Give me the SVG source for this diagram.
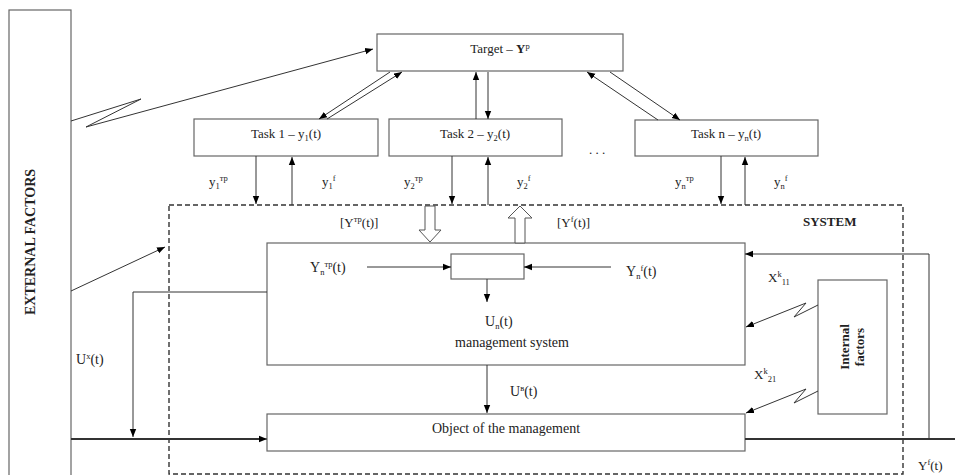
<svg xmlns="http://www.w3.org/2000/svg" width="955" height="475" viewBox="0 0 955 475">
<style>
text{font-family:"Liberation Serif","Times New Roman",serif;font-size:13px;fill:#222}
.b{font-weight:bold}
.m{font-size:14px}
.box{fill:#fff;stroke:#666;stroke-width:1.2}
.ln{fill:none;stroke:#333;stroke-width:1}
.thick{fill:none;stroke:#333;stroke-width:2}
.hol{fill:#fff;stroke:#555;stroke-width:1}
.dash{fill:none;stroke:#333;stroke-width:1.4;stroke-dasharray:5,3}
.sm{font-size:8.5px}
</style>
<defs>
<marker id="a" viewBox="0 0 10 10" refX="10" refY="5" markerWidth="8" markerHeight="8" markerUnits="userSpaceOnUse" orient="auto"><path d="M0,1 L10,5 L0,9z" fill="#000"/></marker>
</defs>
<g id="system">
<rect class="dash" x="169" y="205" width="734" height="269"/>
<text class="b" x="803" y="226">SYSTEM</text>
</g>
<g id="external">
<rect class="box" x="9" y="10" width="62" height="470"/>
<text class="b m" transform="translate(35,242) rotate(-90)" text-anchor="middle">EXTERNAL FACTORS</text>
</g>
<g id="target">
<rect class="box" x="377" y="34" width="246" height="37"/>
<text x="500" y="53" text-anchor="middle">Target – <tspan class="b">Y</tspan><tspan class="sm" dy="-4">p</tspan></text>
</g>
<g id="task1">
<rect class="box" x="194" y="119" width="184" height="37"/>
<text x="286" y="138" text-anchor="middle">Task 1 – y<tspan class="sm" dy="3">1</tspan><tspan dy="-3">(t)</tspan></text>
</g>
<g id="task2">
<rect class="box" x="389" y="119" width="173" height="37"/>
<text x="475" y="138" text-anchor="middle">Task 2 – y<tspan class="sm" dy="3">2</tspan><tspan dy="-3">(t)</tspan></text>
</g>
<g id="dots"><text x="597" y="154" text-anchor="middle">. . .</text></g>
<g id="taskn">
<rect class="box" x="635" y="120" width="183" height="36"/>
<text x="726" y="138" text-anchor="middle">Task n  – y<tspan class="sm" dy="3">n</tspan><tspan dy="-3">(t)</tspan></text>
</g>
<g id="management">
<rect class="box" x="267" y="243" width="478" height="122"/>
<text class="m" x="485" y="326">U<tspan class="sm" dy="3">n</tspan><tspan dy="-3">(t)</tspan></text>
<text class="m" x="512" y="347" text-anchor="middle">management system</text>
</g>
<g id="comparator">
<rect class="box" x="451" y="254" width="73" height="25"/>
</g>
<g id="object">
<rect class="box" x="267" y="414" width="478" height="37"/>
<text class="m" x="506" y="433" text-anchor="middle">Object of the management</text>
</g>
<g id="internal">
<rect class="box" x="818" y="280" width="69" height="134"/>
<text class="b" transform="translate(852,347) rotate(-90)" text-anchor="middle"><tspan x="0" dy="-3">Internal</tspan><tspan x="0" dy="15">factors</tspan></text>
</g>
<g id="connectors">
<polyline class="ln" points="71,121 141,99 86,127 373,49" marker-end="url(#a)"/>
<line class="ln" x1="390" y1="72" x2="319" y2="119" marker-end="url(#a)"/>
<line class="ln" x1="327" y1="119" x2="402" y2="72" marker-end="url(#a)"/>
<line class="ln" x1="476" y1="119" x2="476" y2="72" marker-end="url(#a)"/>
<line class="ln" x1="488" y1="72" x2="488" y2="119" marker-end="url(#a)"/>
<line class="ln" x1="658" y1="120" x2="587" y2="72" marker-end="url(#a)"/>
<line class="ln" x1="610" y1="72" x2="680" y2="120" marker-end="url(#a)"/>
<line class="ln" x1="256" y1="156" x2="256" y2="204" marker-end="url(#a)"/>
<line class="ln" x1="292" y1="205" x2="292" y2="157" marker-end="url(#a)"/>
<line class="ln" x1="452" y1="156" x2="452" y2="204" marker-end="url(#a)"/>
<line class="ln" x1="488" y1="205" x2="488" y2="157" marker-end="url(#a)"/>
<line class="ln" x1="721" y1="156" x2="721" y2="204" marker-end="url(#a)"/>
<line class="ln" x1="745" y1="205" x2="745" y2="157" marker-end="url(#a)"/>
<polygon class="hol" points="425,206 435,206 435,230 441,230 430,242 419,230 425,230"/>
<polygon class="hol" points="515,243 525,243 525,218 532,218 520,206 508,218 515,218"/>
<line class="ln" x1="71" y1="291" x2="165" y2="247" marker-end="url(#a)"/>
<polyline class="ln" points="267,292 133,292 133,437" marker-end="url(#a)"/>
<line class="thick" x1="71" y1="439" x2="260" y2="439"/>
<line class="ln" x1="255" y1="439" x2="267" y2="439" marker-end="url(#a)"/>
<line class="ln" x1="367" y1="267" x2="451" y2="267" marker-end="url(#a)"/>
<line class="ln" x1="611" y1="267" x2="524" y2="267" marker-end="url(#a)"/>
<line class="ln" x1="487" y1="279" x2="487" y2="302" marker-end="url(#a)"/>
<line class="ln" x1="487" y1="365" x2="487" y2="413" marker-end="url(#a)"/>
<line class="thick" x1="745" y1="439" x2="955" y2="439"/>
<polyline class="ln" points="929,439 929,254 745,254" marker-end="url(#a)"/>
<polyline class="ln" points="818,305 794,317 806,303 746,327" marker-end="url(#a)"/>
<polyline class="ln" points="818,391 794,403 806,389 746,413" marker-end="url(#a)"/>
</g>
<g id="labels">
<text x="209" y="186">y<tspan class="sm" dy="3">1</tspan><tspan class="sm" dy="-8">тр</tspan></text>
<text x="322" y="186">y<tspan class="sm" dy="3">1</tspan><tspan class="sm" dy="-8">f</tspan></text>
<text x="404" y="186">y<tspan class="sm" dy="3">2</tspan><tspan class="sm" dy="-8">тр</tspan></text>
<text x="517" y="186">y<tspan class="sm" dy="3">2</tspan><tspan class="sm" dy="-8">f</tspan></text>
<text x="675" y="186">y<tspan class="sm" dy="3">n</tspan><tspan class="sm" dy="-8">тр</tspan></text>
<text x="774" y="186">y<tspan class="sm" dy="3">n</tspan><tspan class="sm" dy="-8">f</tspan></text>
<text x="340" y="227">[Y<tspan class="sm" dy="-5">тр</tspan><tspan dy="5">(t)]</tspan></text>
<text x="557" y="227">[Y<tspan class="sm" dy="-5">f</tspan><tspan dy="5">(t)]</tspan></text>
<text class="m" x="310" y="272">Y<tspan class="sm" dy="3">n</tspan><tspan class="sm" dy="-8">тр</tspan><tspan dy="5">(t)</tspan></text>
<text class="m" x="626" y="276">Y<tspan class="sm" dy="3">n</tspan><tspan class="sm" dy="-8">f</tspan><tspan dy="5">(t)</tspan></text>
<text class="m" x="76" y="364">U<tspan class="sm" dy="-5">x</tspan><tspan dy="5">(t)</tspan></text>
<text class="m" x="510" y="396">U<tspan class="sm" dy="-5">в</tspan><tspan dy="5">(t)</tspan></text>
<text x="768" y="282">X<tspan class="sm" dy="-5">k</tspan><tspan class="sm" dy="8">11</tspan></text>
<text x="754" y="379">X<tspan class="sm" dy="-5">k</tspan><tspan class="sm" dy="8">21</tspan></text>
<text x="918" y="470">Y<tspan class="sm" dy="-5">f</tspan><tspan dy="5">(t)</tspan></text>
</g>
</svg>
